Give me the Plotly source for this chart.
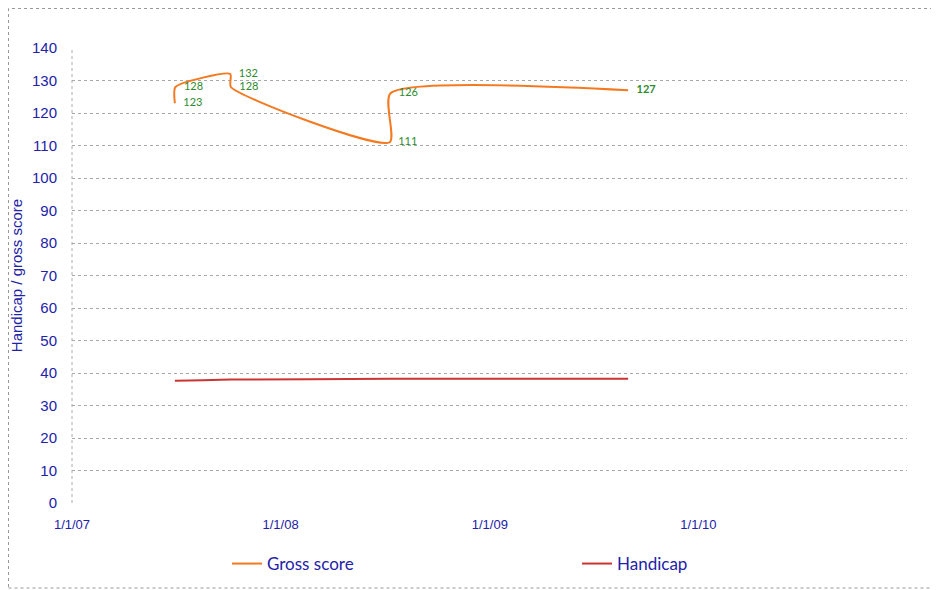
import plotly.graph_objects as go

dates = ["2007-06-30", "2007-07-01", "2007-10-05", "2007-10-06",
         "2008-07-10", "2008-07-11", "2009-08-31"]
gross_score = [123, 128, 132, 128, 111, 126, 127]
handicap = [37.6, 37.6, 38.0, 38.0, 38.2, 38.2, 38.2]
x_tick_vals = ["2007-01-01", "2008-01-01", "2009-01-01", "2010-01-01"]
x_tick_text = ["1/1/07", "1/1/08", "1/1/09", "1/1/10"]
y_ticks = list(range(0, 141, 10))

BLUE = "#2222A8"
GREEN = "#2E8B2E"

OFF = 8  # default body margin of the page
W, H = 939 - OFF, 590 - OFF
L, R, T, B = 72 - OFF, 907 - OFF, 48 - OFF, 503 - OFF

PAD = "\u00a0\u00a0\u00a0"
label_text = [PAD + str(v) for v in gross_score]
label_text[-1] = PAD + "<b>127</b>"

fig = go.Figure()
fig.add_trace(go.Scatter(
    x=dates, y=gross_score, name="Gross score", legend="legend",
    mode="lines+text", text=label_text, textposition="middle right",
    textfont=dict(color=GREEN, size=11, family="Lato"),
    line=dict(color="#F47A22", width=2, shape="spline", smoothing=0.6),
))
fig.add_trace(go.Scatter(
    x=dates, y=handicap, name="Handicap", mode="lines", legend="legend2",
    line=dict(color="#CC3333", width=2, shape="spline", smoothing=0.5),
))

def px_x(p):
    return (p - OFF - L) / (R - L)

def px_y(p):
    return (B - (p - OFF)) / (B - T)

shapes = [
    dict(type="rect", xref="paper", yref="paper",
         x0=px_x(OFF + 0.5), x1=px_x(937), y0=px_y(588), y1=px_y(OFF + 0.5),
         line=dict(color="#999999", width=1, dash="dot")),
    dict(type="line", xref="paper", yref="paper", x0=0, x1=0, y0=0, y1=1,
         line=dict(color="#AAAAAA", width=1, dash="dot")),
]

leg_font = dict(family="Lato", size=17, color=BLUE)

fig.update_layout(
    template="none",
    width=W, height=H, autosize=False,
    margin=dict(l=L, r=W - R, t=T, b=H - B, autoexpand=False),
    paper_bgcolor="white", plot_bgcolor="white",
    font=dict(family="Liberation Sans", color=BLUE),
    showlegend=True,
    legend=dict(orientation="h", x=px_x(227), y=px_y(564), yanchor="middle",
                xanchor="left", font=leg_font, bgcolor="rgba(0,0,0,0)"),
    legend2=dict(orientation="h", x=px_x(577), y=px_y(564), yanchor="middle",
                 xanchor="left", font=leg_font, bgcolor="rgba(0,0,0,0)"),
    shapes=shapes,
    xaxis=dict(type="date", range=["2007-01-01", "2011-01-01"],
               tickvals=x_tick_vals, ticktext=x_tick_text, automargin=False,
               showgrid=False, zeroline=False, showline=False,
               tickfont=dict(size=13, color=BLUE), ticks="",
               ticklabelstandoff=12),
    yaxis=dict(range=[0, 140], tickvals=y_ticks, showgrid=True, automargin=False,
               gridcolor="#A8A8A8", griddash="dot", gridwidth=1,
               zeroline=False, showline=False, ticks="",
               tickfont=dict(size=15, color=BLUE), ticklabelstandoff=14,
               title=dict(text="Handicap / gross score",
                          font=dict(size=15, color=BLUE), standoff=14)),
)

fig.write_html("out.html",
               config={"responsive": False, "displayModeBar": False})
